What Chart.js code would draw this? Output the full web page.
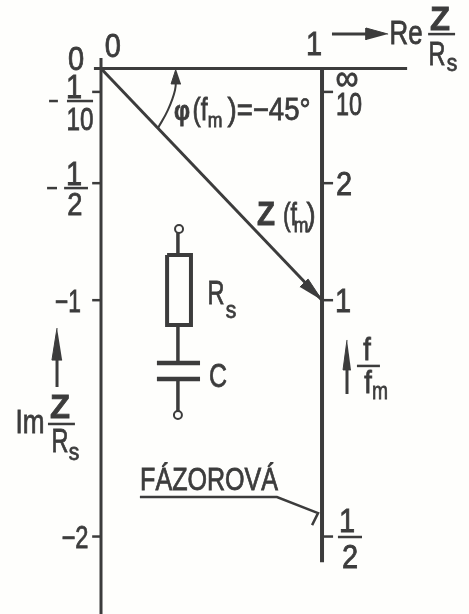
<!DOCTYPE html>
<html>
<head>
<meta charset="utf-8">
<script src="https://cdn.jsdelivr.net/npm/chart.js@4"></script>
<style>
  html, body { margin: 0; padding: 0; background: #fefefc; }
  canvas { display: block; filter: blur(0.55px); }
</style>
</head>
<body>
<canvas id="chart" width="469" height="614"></canvas>
<script>
// Z/Rs plane values
const imTickValues = [-0.1, -0.49, -0.99, -2];
const zVector = [[0, 0], [1, -0.99]];
const reAxis = [[-0.032, 0], [1.385, 0]];
const imAxis = [[0, 0.045], [0, -2.331]];
const freqAxis = [[1, 0], [1, -2.11]];

// Angle arc and direction arrows
const angleArc = [[0.258, -0.254], [0.303, -0.177], [0.335, -0.092], [0.339, -0.028]];
const reArrow = [[1.045, 0.147], [1.226, 0.147]];
const imArrow = [[-0.199, -1.361], [-0.199, -1.2]];
const freqArrow = [[1.113, -1.391], [1.113, -1.25]];
const arrowHeads = [
  [[1, -0.99], [0.937, -0.9], [0.9, -0.934]],
  [[0.339, -0.002], [0.317, -0.066], [0.362, -0.066]],
  [[1.299, 0.147], [1.199, 0.173], [1.199, 0.122]],
  [[-0.199, -1.109], [-0.222, -1.246], [-0.176, -1.246]],
  [[1.113, -1.16], [1.095, -1.288], [1.131, -1.288]]
];

// Fraction bars and minus signs
const fractionBars = [
  [[1.48, 0.147], [1.602, 0.147]],
  [[-0.235, -0.139], [-0.195, -0.139]],
  [[-0.154, -0.139], [-0.036, -0.139]],
  [[-0.244, -0.511], [-0.199, -0.511]],
  [[-0.167, -0.511], [-0.059, -0.511]],
  [[1.158, -1.271], [1.262, -1.271]],
  [[1.072, -2.002], [1.181, -2.002]],
  [[-0.24, -1.519], [-0.118, -1.519]]
];

// Series R-C circuit
const resistorBox = [[0.299, -0.797], [0.407, -0.797], [0.407, -1.096], [0.299, -1.096], [0.299, -0.797]];
const wires = [
  [[0.348, -0.703], [0.348, -0.797]],
  [[0.348, -1.096], [0.348, -1.258]],
  [[0.348, -1.327], [0.348, -1.464]]
];
const capacitorPlates = [
  [[0.253, -1.258], [0.448, -1.258]],
  [[0.253, -1.327], [0.448, -1.327]]
];
const terminals = [[0.353, -0.686], [0.348, -1.481]];

const leaderLine = [[0.176, -1.831], [0.796, -1.831], [0.982, -1.9], [0.955, -1.951]];

// Text: [string, x, y, font size, bold, max width]
const labels = [
  ['0', 0.054, 0.049, 33], ['0', -0.113, -0.006, 33], ['1', 0.964, 0.058, 33],
  ['Re', 1.38, 0.105, 33, false, 33], ['Z', 1.534, 0.165, 33, true, 20], ['R', 1.52, 0.015, 33, false, 17], ['s', 1.588, -0.011, 24],
  ['1', -0.122, -0.126, 33], ['10', -0.095, -0.263, 31, false, 27],
  ['1', -0.122, -0.498, 33], ['2', -0.118, -0.626, 31],
  ['−1', -0.15, -1.04, 31, false, 26], ['−2', -0.118, -2.049, 31, false, 27],
  ['∞', 1.113, -0.09, 36, false, 23], ['10', 1.122, -0.199, 31, false, 26],
  ['2', 1.1, -0.541, 33], ['1', 1.095, -1.04, 33],
  ['1', 1.113, -1.981, 33], ['2', 1.127, -2.135, 33],
  ['φ', 0.367, -0.221, 28, true, 16], ['(f', 0.448, -0.221, 31, false, 15], ['m', 0.516, -0.25, 20],
  [')=−45°', 0.76, -0.221, 31, false, 83],
  ['Z', 0.747, -0.669, 33, true, 18], ['(f', 0.855, -0.669, 31, false, 14], ['m', 0.905, -0.7, 20], [')', 0.95, -0.669, 31],
  ['R', 0.52, -1.006, 33, false, 17], ['s', 0.588, -1.066, 24], ['C', 0.529, -1.361, 33, false, 18],
  ['f', 1.204, -1.246, 31], ['f', 1.208, -1.387, 31], ['m', 1.262, -1.413, 24, false, 16],
  ['Im', -0.321, -1.558, 33, false, 29], ['Z', -0.186, -1.493, 33, true, 20], ['R', -0.186, -1.639, 33, false, 17], ['s', -0.122, -1.673, 24],
  ['FÁZOROVÁ', 0.489, -1.801, 32, false, 138]
];

const ink = '#3c3c3c';

function toPoints(list) {
  return list.map(p => ({ x: p[0], y: p[1] }));
}

function line(list, width, extra) {
  return Object.assign({
    data: toPoints(list),
    showLine: true,
    borderColor: ink,
    borderWidth: width,
    pointRadius: 0,
    tension: 0,
    fill: false
  }, extra);
}

const datasets = [
  line(reAxis, 3),
  line(imAxis, 3),
  line(freqAxis, 4),
  line(zVector, 3),
  line(angleArc, 2, { tension: 0.4 }),
  line(reArrow, 3),
  line(imArrow, 3),
  line(freqArrow, 3),
  line(resistorBox, 4),
  line(leaderLine, 2.5)
];

imTickValues.forEach(v => {
  datasets.push(line([[-0.04, v], [0, v]], 2.5));
  datasets.push(line([[1, v], [1.05, v]], 2.5));
});
fractionBars.forEach(b => datasets.push(line(b, 2.5)));
wires.forEach(w => datasets.push(line(w, 3.5)));
capacitorPlates.forEach(p => datasets.push(line(p, 4.5)));
arrowHeads.forEach(h => datasets.push(line(h, 1, { fill: 'shape', backgroundColor: ink })));

datasets.push({
  data: toPoints(terminals),
  pointRadius: 4,
  pointBorderWidth: 2,
  pointBorderColor: ink,
  pointBackgroundColor: '#fefefc',
  showLine: false
});

// Draws the hand lettering at data positions
const letteringPlugin = {
  id: 'lettering',
  afterDatasetsDraw(chart) {
    const ctx = chart.ctx;
    const xs = chart.scales.x;
    const ys = chart.scales.y;
    ctx.save();
    ctx.fillStyle = ink;
    ctx.strokeStyle = ink;
    ctx.lineWidth = 0.8;
    ctx.textAlign = 'center';
    ctx.textBaseline = 'alphabetic';
    labels.forEach(l => {
      const [text, x, y, size, bold, maxWidth] = l;
      ctx.font = (bold ? 'bold ' : '') + size + 'px "Liberation Sans", "DejaVu Sans", sans-serif';
      const px = xs.getPixelForValue(x);
      const py = ys.getPixelForValue(y);
      // the lettering is narrower than the font
      const w = maxWidth || ctx.measureText(text).width * 0.88;
      ctx.fillText(text, px, py, w);
      ctx.strokeText(text, px, py, w);
    });
    ctx.restore();
  }
};

new Chart(document.getElementById('chart').getContext('2d'), {
  type: 'scatter',
  data: { datasets },
  options: {
    responsive: false,
    animation: false,
    layout: { padding: 0, autoPadding: false },
    plugins: { legend: { display: false }, tooltip: { enabled: false } },
    scales: {
      x: { type: 'linear', display: false, min: -0.457, max: 1.665 },
      y: { type: 'linear', display: false, min: -2.331, max: 0.2927 }
    }
  },
  plugins: [letteringPlugin]
});
</script>
</body>
</html>
